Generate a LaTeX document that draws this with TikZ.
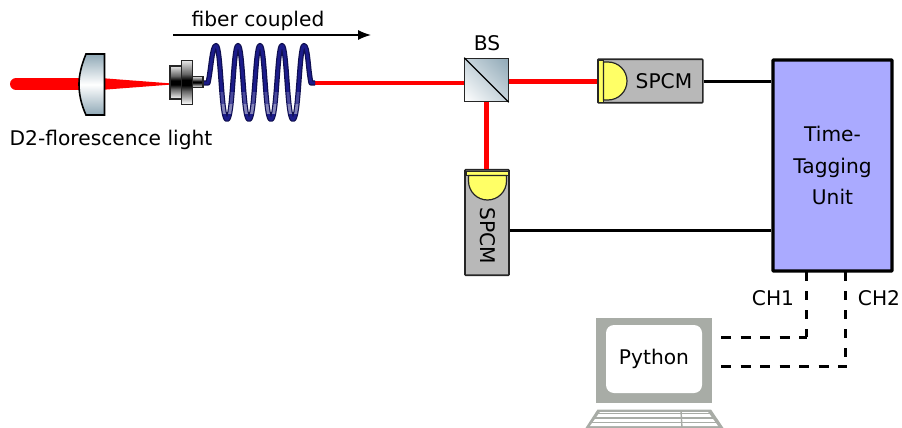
\documentclass[tikz,border=0pt]{standalone}
\usepackage{fontspec}
\setmainfont{DejaVu Sans}
\usetikzlibrary{arrows.meta,shadings}
\definecolor{beam}{HTML}{FF0000}
\definecolor{det}{HTML}{B8B8B8}
\definecolor{yel}{HTML}{FFFF66}
\definecolor{ttuc}{HTML}{AAAAFF}
\definecolor{lap}{HTML}{A8ACA6}
\definecolor{steel}{HTML}{8FA8B6}
\definecolor{steelmid}{HTML}{C6D3DB}
\definecolor{fibdark}{HTML}{0F0F50}
\definecolor{fibmain}{HTML}{1C1C8A}
\definecolor{fibmid}{HTML}{4A4A9C}
\definecolor{fiblight}{HTML}{8585B8}
\pgfdeclareverticalshading{metalsh}{100bp}{color(0bp)=(white); color(25bp)=(white); color(40bp)=(black!60); color(47bp)=(black); color(53bp)=(black); color(60bp)=(black!60); color(75bp)=(black!10); color(100bp)=(black!10)}
\tikzset{
  lbl/.style={font=\fontsize{20.2}{31.5}\selectfont,inner sep=0pt,text=black},
  detbox/.style={draw=black!85,line width=1.6pt,fill=det,rounded corners=0.8pt,inner sep=0pt},
  raybeam/.style={draw=beam,line width=5pt},
  wire/.style={draw=black,line width=3pt},
  dwire/.style={draw=black,line width=3pt},
  dashv/.style={dwire,dash pattern=on 8.5pt off 10.5pt},
  dashh/.style={dwire,dash pattern=on 10pt off 9.5pt},
  metal/.style={draw=black!85,line width=1.3pt,shading=metalsh,inner sep=0pt},
}
\newcommand{\fibpath}{(204,83) -- (208,83) .. controls (211,70) and (212,45.5) .. (216,45.5)
  .. controls (221,45.5) and (221,119.5) .. (227,119.5)
  .. controls (233,119.5) and (233,45.5) .. (238,45.5)
  .. controls (243,45.5) and (243,119.5) .. (249,119.5)
  .. controls (255,119.5) and (255,45.5) .. (260,45.5)
  .. controls (265,45.5) and (265,119.5) .. (271,119.5)
  .. controls (277,119.5) and (277,45.5) .. (282,45.5)
  .. controls (287,45.5) and (287,119.5) .. (293,119.5)
  .. controls (299,119.5) and (299,45.5) .. (304,45.5)
  .. controls (308,45.5) and (308,70) .. (311,83) -- (315,83)}
\begin{document}
\begin{tikzpicture}[x=1pt,y=-1pt]
\useasboundingbox (0,0) rectangle (902,428);
% beam before lens
\coordinate (src) at (16,84);
\coordinate (lensin) at (85,84);
\draw[draw=beam,line width=12pt,line cap=round] (src) -- (lensin);
\fill[beam] (100,78) -- (172,83.5) -- (172,84.5) -- (100,90) -- cycle;
% lens
\draw[draw=black,line width=1.6pt,top color=steel,bottom color=steel,middle color=white]
  (104.5,54) -- (86,54) .. controls (81,66) and (79,76) .. (79,84) .. controls (79,94) and (81,104) .. (86,115) -- (104.5,115) -- cycle;
% coupler
\node[metal,minimum width=11pt,minimum height=11.5pt] (c3) at (197.5,82) {};
\node[metal,minimum width=12pt,minimum height=33pt] (c1) at (176,82.5) {};
\node[metal,minimum width=11.5pt,minimum height=43.5pt] (c2) at (187,82.5) {};
% BS
\node[draw=black!85,line width=1.1pt,minimum width=43.5pt,minimum height=43.5pt,inner sep=0pt,
  shading=bilinear interpolation,lower left=white,upper right=steel,upper left=steelmid,lower right=steelmid] (bs) at (486.5,80) {};
\draw[black,line width=1.1pt] (bs.north west) -- (bs.south east);
\node[lbl,anchor=center] at (487,43) {BS};
\coordinate (fibend) at (313,83);
\draw[raybeam,line width=4.5pt] (fibend) -- (fibend -| bs.west);
% fibre
\draw[color=fibdark,line width=5.2pt,line join=round] \fibpath;
\draw[color=fibmain,line width=2.8pt,line join=round] \fibpath;
\begin{scope}
\clip (200,92) rectangle (320,104);
\draw[color=fibmid,line width=2.8pt] \fibpath;
\end{scope}
\begin{scope}
\clip (200,104) rectangle (320,113);
\draw[color=fiblight,line width=2.8pt] \fibpath;
\end{scope}
% Detector 1
\node[detbox,minimum width=105pt,minimum height=43.5pt] (spcma) at (650.3,81) {};
\draw[raybeam] (spcma.west) -- (spcma.west -| bs.east);
\filldraw[fill=yel,draw=black!85,line width=0.9pt] (598.5,60) rectangle (603.5,102.3);
\filldraw[fill=yel,draw=black!85,line width=1.2pt] (603.5,62) -- (608,62) arc[start angle=-90,end angle=90,radius=19] -- (603.5,100) -- cycle;
\node[lbl] at (664,81) {SPCM};
% Detector 2
\node[detbox,minimum width=44pt,minimum height=105.5pt] (spcmb) at (487,222.5) {};
\draw[raybeam] (bs.south) -- (bs.south |- spcmb.north);
\filldraw[fill=yel,draw=black!85,line width=0.9pt] (466,171) rectangle (508.5,175.5);
\filldraw[fill=yel,draw=black!85,line width=1.2pt] (468.5,175.5) -- (468.5,181) arc[start angle=180,end angle=0,radius=19] -- (506.5,175.5) -- cycle;
\node[lbl,rotate=-90] at (487.5,236) {SPCM};
% TTU
\node[draw=black,line width=3.4pt,fill=ttuc,rounded corners=0.8pt,minimum width=119pt,minimum height=211pt,inner sep=0pt,
  lbl,align=center] (ttu) at (832.5,165.5) {Time-\\Tagging\\Unit};
\draw[wire] (spcma.east) -- (spcma.east -| ttu.west);
\draw[wire] (spcmb.east |- 0,230.5) -- (ttu.west |- 0,230.5);
\node[lbl] at (773,298) {CH1};
\node[lbl] at (879,298) {CH2};
% laptop
\node[fill=lap,minimum width=116pt,minimum height=85pt,inner sep=0pt] (screen) at (654,360.2) {};
\node[fill=white,rounded corners=8pt,minimum width=96pt,minimum height=68pt,inner sep=0pt,lbl] (py) at (654,359) {\raisebox{4pt}{Python}};
\fill[lap] (597.5,409.5) -- (711,409.5) -- (723.5,428) -- (585.5,428) -- cycle;
\fill[white] (600,412) -- (708,412) -- (718,426) -- (590,426) -- cycle;
\foreach \yy/\xa/\xb in {413.5/598/710,418/595/713,422.5/592/716}
  \draw[lap,line width=1.2pt] (\xa,\yy) -- (\xb,\yy);
\draw[lap,line width=1.4pt] (681,411) -- (682,428);
% dashed links
\coordinate (ch1) at (806.7,272);
\coordinate (ch2) at (845,272);
\coordinate (pa) at (721,337);
\coordinate (pb) at (721,366);
\draw[dashv] (ch1) -- (ch1 |- pa);
\draw[dashh] (pa) -- (ch1 |- pa);
\draw[dashv] (ch2) -- (ch2 |- pb);
\draw[dashh] (pb) -- ([xshift=1.5pt]ch2 |- pb);
% top arrow
\coordinate (aa) at (173,35);
\coordinate (ab) at (371,35);
\draw[black,line width=1.4pt,-{Latex[length=13pt,width=10pt]}] (aa) -- (ab);
\node[lbl] at (258,21) {fiber coupled};
\node[lbl] at (111,139.5) {D2-florescence light};
\end{tikzpicture}
\end{document}
